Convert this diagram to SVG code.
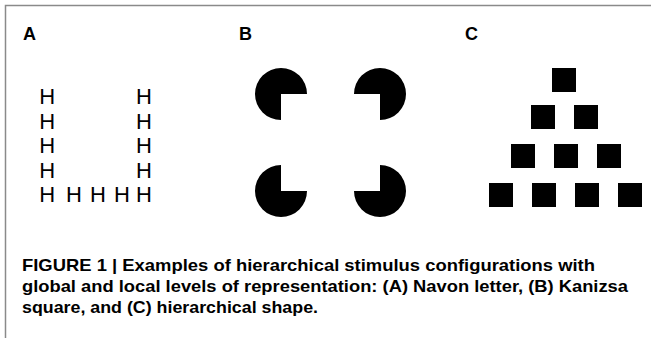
<svg xmlns="http://www.w3.org/2000/svg" width="651" height="338" viewBox="0 0 651 338">
<style>
.lbl{font-family:"Liberation Sans",Arial,sans-serif;font-weight:bold;font-size:18px;fill:#000}
.h{font-family:"Liberation Sans",Arial,sans-serif;font-size:22px;fill:#000}
.cap{font-family:"Liberation Sans Narrow","Liberation Sans",Arial,sans-serif;font-weight:bold;font-size:17px;fill:#000}
.sq{fill:#000}
</style>
<rect width="651" height="338" fill="#fff"/>
<path d="M5.5,338 V5.5 H651" fill="none" stroke="#8a8a8a" stroke-width="1.5"/>
<g id="panelA">
<text class="lbl" x="23" y="40">A</text>
<text class="h" x="39.3" y="104">H</text>
<text class="h" x="39.3" y="128.5">H</text>
<text class="h" x="39.3" y="153">H</text>
<text class="h" x="39.3" y="177.5">H</text>
<text class="h" x="39.3" y="202">H</text>
<text class="h" x="66" y="202">H</text>
<text class="h" x="90" y="202">H</text>
<text class="h" x="114" y="202">H</text>
<text class="h" x="136" y="202">H</text>
<text class="h" x="136" y="177.5">H</text>
<text class="h" x="136" y="153">H</text>
<text class="h" x="136" y="128.5">H</text>
<text class="h" x="136" y="104">H</text>
</g>
<g id="panelB">
<text class="lbl" x="239" y="40">B</text>
<path d="M281,94 L281,120 A26,26 0 1 1 307,94 Z"/>
<path d="M380,94 L354,94 A26,26 0 1 1 380,120 Z"/>
<path d="M281,191 L307,191 A26,26 0 1 1 281,165 Z"/>
<path d="M380,191 L380,165 A26,26 0 1 1 354,191 Z"/>
</g>
<g id="panelC">
<text class="lbl" x="465" y="40">C</text>
<rect class="sq" x="552" y="68" width="24" height="24"/>
<rect class="sq" x="531" y="105" width="24" height="24"/>
<rect class="sq" x="574" y="105" width="24" height="24"/>
<rect class="sq" x="511" y="144" width="24" height="24"/>
<rect class="sq" x="554" y="144" width="24" height="24"/>
<rect class="sq" x="597" y="144" width="24" height="24"/>
<rect class="sq" x="489" y="183" width="24" height="24"/>
<rect class="sq" x="532" y="183" width="24" height="24"/>
<rect class="sq" x="575" y="183" width="24" height="24"/>
<rect class="sq" x="618" y="183" width="24" height="24"/>
</g>
<g id="caption">
<text class="cap" x="22" y="271" textLength="573" lengthAdjust="spacingAndGlyphs">FIGURE 1 | Examples of hierarchical stimulus configurations with</text>
<text class="cap" x="22" y="292" textLength="606" lengthAdjust="spacingAndGlyphs">global and local levels of representation: (A) Navon letter, (B) Kanizsa</text>
<text class="cap" x="22" y="313" textLength="296" lengthAdjust="spacingAndGlyphs">square, and (C) hierarchical shape.</text>
</g>
</svg>
